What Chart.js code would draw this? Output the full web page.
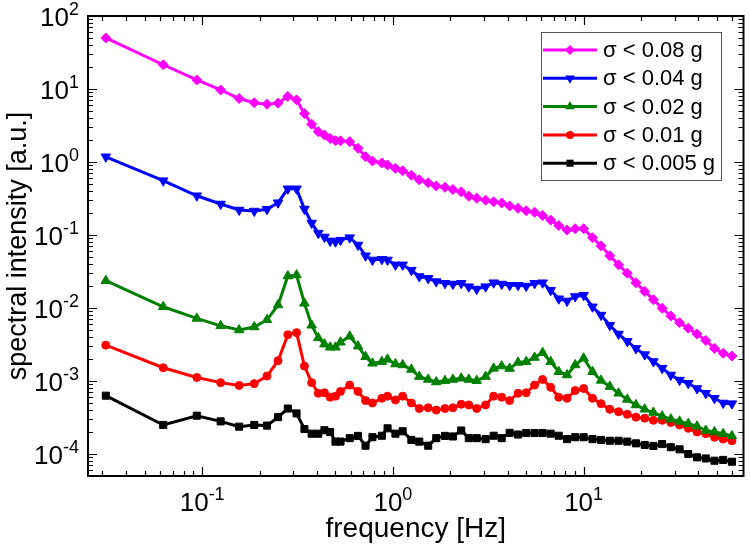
<!DOCTYPE html>
<html>
<head>
<meta charset="utf-8">
<script src="https://cdn.jsdelivr.net/npm/chart.js@4.4.0/dist/chart.umd.min.js"></script>
<style>
html, body { margin: 0; padding: 0; background: #fff; }
#wrap { width: 750px; height: 544px; }
</style>
</head>
<body>
<div id="wrap"><canvas id="c" width="750" height="544"></canvas></div>
<script>
// frequency bins [Hz]
const freq = [0.03125, 0.0625, 0.09375, 0.125, 0.15625, 0.1875, 0.21875, 0.25, 0.28125, 0.3125, 0.34375, 0.375, 0.40625, 0.4375, 0.46875, 0.5,
    0.53125, 0.59375, 0.65625, 0.71875, 0.78125, 0.875, 0.9375,
    1.031, 1.125, 1.25, 1.375, 1.531, 1.688, 1.875, 2.063, 2.281, 2.5, 2.75, 3.063, 3.375, 3.719, 4.094, 4.531, 5.0, 5.531, 6.094, 6.719, 7.406, 8.188, 9.031,
    10.0, 11.13, 12.34, 13.72, 15.25, 16.94, 18.81, 20.91, 23.22, 25.81, 28.66, 31.84, 35.38, 39.31, 43.69, 48.53, 53.91, 59.91];

const sig008 = [50, 21.5, 13.3, 9.7, 7.4, 6.5, 6.2, 6.4, 7.9, 7.1, 4.6, 3.3, 2.6, 2.35, 2.1, 1.96,
    1.95, 1.9, 1.54, 1.18, 1.03, 0.97, 0.91,
    0.82, 0.76, 0.66, 0.57, 0.52, 0.47, 0.45, 0.42, 0.39, 0.34, 0.32, 0.30, 0.285, 0.275, 0.25, 0.232, 0.215, 0.205, 0.185, 0.16, 0.135, 0.117, 0.122,
    0.122, 0.092, 0.071, 0.052, 0.039, 0.030, 0.0222, 0.0169, 0.0130, 0.0099, 0.0078, 0.0063, 0.0053, 0.0044, 0.0036, 0.0028, 0.0024, 0.0022];

const sig004 = [1.18, 0.555, 0.345, 0.266, 0.22, 0.213, 0.225, 0.277, 0.43, 0.43, 0.227, 0.146, 0.106, 0.094, 0.083, 0.081,
    0.085, 0.092, 0.073, 0.052, 0.0455, 0.0465, 0.0455,
    0.039, 0.039, 0.033, 0.027, 0.0255, 0.023, 0.0218, 0.0213, 0.0218, 0.0196, 0.0182, 0.0196, 0.0222, 0.0213, 0.0205, 0.0205, 0.02, 0.0218, 0.0222, 0.0175, 0.0134, 0.0125, 0.0144,
    0.015, 0.0104, 0.008, 0.0058, 0.0044, 0.0035, 0.0028, 0.0023, 0.00185, 0.0015, 0.00121, 0.00103, 0.00093, 0.00079, 0.00068, 0.00058, 0.0005, 0.00049];

const sig002 = [0.0237, 0.0104, 0.0072, 0.0057, 0.005, 0.0055, 0.0069, 0.011, 0.0274, 0.0283, 0.0116, 0.0058, 0.0039, 0.0032, 0.0029, 0.0029,
    0.0034, 0.0041, 0.003, 0.00215, 0.00175, 0.00184, 0.00198,
    0.00171, 0.00166, 0.00144, 0.00115, 0.00105, 0.00097, 0.00101, 0.00105, 0.00109, 0.00105, 0.00101, 0.00115, 0.00149, 0.0016, 0.00148, 0.0018, 0.00184, 0.0021, 0.00244, 0.00184, 0.00134, 0.00121, 0.00166,
    0.00205, 0.00134, 0.00102, 0.00084, 0.00068, 0.00056, 0.00047, 0.00041, 0.00037, 0.00033, 0.0003, 0.00028, 0.00026, 0.00024, 0.00021, 0.0002, 0.00019, 0.000177];

const sig001 = [0.0031, 0.00152, 0.00112, 0.00095, 0.00087, 0.00092, 0.00117, 0.0019, 0.0043, 0.0046, 0.0016, 0.00095, 0.00068, 0.00069, 0.0006, 0.00062,
    0.00072, 0.00088, 0.00072, 0.00054, 0.0005, 0.00058, 0.00062,
    0.00055, 0.00062, 0.0005, 0.00042, 0.00043, 0.0004, 0.00042, 0.00043, 0.00048, 0.00047, 0.00042, 0.00047, 0.00062, 0.0006, 0.00054, 0.00068, 0.00069, 0.00088, 0.00105, 0.00082, 0.0006, 0.00058, 0.00074,
    0.00079, 0.00058, 0.00049, 0.00041, 0.00038, 0.00035, 0.00032, 0.00031, 0.00029, 0.00029, 0.00027, 0.00025, 0.000225, 0.0002, 0.00019, 0.00017, 0.00016, 0.000152];

const sig0005 = [0.00063, 0.00025, 0.000335, 0.00028, 0.000237, 0.00025, 0.000245, 0.00032, 0.00042, 0.00036, 0.00022, 0.00019, 0.00019, 0.000212, 0.0002, 0.000148,
    0.000148, 0.000165, 0.000177, 0.00013, 0.00017, 0.000178, 0.000225,
    0.00019, 0.000205, 0.000156, 0.000148, 0.00013, 0.000165, 0.000177, 0.000174, 0.00021, 0.000165, 0.000165, 0.00016, 0.000178, 0.000165, 0.000195, 0.000185, 0.000194, 0.000194, 0.000194, 0.00019, 0.000178, 0.00016, 0.00017,
    0.00017, 0.00016, 0.000156, 0.000152, 0.000152, 0.000148, 0.00014, 0.000133, 0.000129, 0.000137, 0.000124, 0.000116, 0.0001, 0.00009, 0.000087, 0.000081, 0.000083, 0.0000785];

const seriesLabels = ['σ < 0.08 g', 'σ < 0.04 g', 'σ < 0.02 g', 'σ < 0.01 g', 'σ < 0.005 g'];
const xMajor = [0.1, 1, 10];
const yMajor = [1e-4, 1e-3, 1e-2, 1e-1, 1, 10, 100];

const FONT = '"Liberation Sans", Arial, sans-serif';

const styles = [
    {color: '#ff00ff', point: 'rectRot', radius: 5, rot: 0},
    {color: '#0000ff', point: 'triangle', radius: 5.5, rot: 180},
    {color: '#008000', point: 'triangle', radius: 5.5, rot: 0},
    {color: '#ff0000', point: 'circle', radius: 4, rot: 0},
    {color: '#000000', point: 'rect', radius: 5, rot: 0}
];

function toPoints(values) {
    return freq.map(function (f, i) { return {x: f, y: values[i]}; });
}

const allSeries = [sig008, sig004, sig002, sig001, sig0005];
const datasets = allSeries.map(function (vals, i) {
    const st = styles[i];
    return {
        label: seriesLabels[i],
        data: toPoints(vals),
        borderColor: st.color,
        backgroundColor: st.color,
        borderWidth: 3,
        pointStyle: st.point,
        pointRadius: st.radius,
        pointRotation: st.rot,
        pointBorderWidth: 1,
        pointBackgroundColor: st.color,
        pointBorderColor: st.color,
        tension: 0
    };
});

// power-of-ten label: "10" with raised exponent
function powLabel(ctx, exp, x, y, align) {
    const base = '10', sup = String(exp);
    ctx.font = '26px ' + FONT;
    const wb = ctx.measureText(base).width;
    ctx.font = '18px ' + FONT;
    const ws = ctx.measureText(sup).width;
    let x0;
    if (align === 'right') x0 = x - wb - ws;
    else x0 = x - (wb + ws) / 2;
    ctx.textAlign = 'left';
    ctx.textBaseline = 'alphabetic';
    ctx.font = '26px ' + FONT;
    ctx.fillText(base, x0, y);
    ctx.font = '18px ' + FONT;
    ctx.fillText(sup, x0 + wb, y - 11);
}

function marker(ctx, st, x, y) {
    const r = st.radius;
    ctx.fillStyle = st.color;
    ctx.beginPath();
    if (st.point === 'rectRot') {
        ctx.moveTo(x, y - r); ctx.lineTo(x + r, y); ctx.lineTo(x, y + r); ctx.lineTo(x - r, y);
    } else if (st.point === 'triangle') {
        const s = st.rot ? -1 : 1;
        ctx.moveTo(x, y - s * r);
        ctx.lineTo(x + r * 0.866, y + s * r * 0.5);
        ctx.lineTo(x - r * 0.866, y + s * r * 0.5);
    } else if (st.point === 'circle') {
        ctx.arc(x, y, r, 0, Math.PI * 2);
    } else {
        const h = r * 0.707;
        ctx.rect(x - h, y - h, 2 * h, 2 * h);
    }
    ctx.closePath();
    ctx.fill();
}

const framePlugin = {
    id: 'frame',
    afterDraw(chart) {
        const ctx = chart.ctx;
        const a = chart.chartArea;
        const xs = chart.scales.x, ys = chart.scales.y;
        ctx.save();
        ctx.strokeStyle = '#000';
        ctx.fillStyle = '#000';

        // ticks, inward on all four sides
        ctx.lineWidth = 1.2;
        ctx.beginPath();
        for (let d = -2; d <= 1; d++) {
            for (let m = 1; m <= 9; m++) {
                const v = m * Math.pow(10, d);
                if (v < xs.min || v > xs.max) continue;
                const px = Math.round(xs.getPixelForValue(v)) + 0.5;
                const len = m === 1 ? 9 : 5;
                ctx.moveTo(px, a.bottom); ctx.lineTo(px, a.bottom - len);
                ctx.moveTo(px, a.top); ctx.lineTo(px, a.top + len);
            }
        }
        for (let d = -5; d <= 2; d++) {
            for (let m = 1; m <= 9; m++) {
                const v = m * Math.pow(10, d);
                if (v < ys.min || v > ys.max) continue;
                const py = Math.round(ys.getPixelForValue(v)) + 0.5;
                const len = m === 1 ? 9 : 5;
                ctx.moveTo(a.left, py); ctx.lineTo(a.left + len, py);
                ctx.moveTo(a.right, py); ctx.lineTo(a.right - len, py);
            }
        }
        ctx.stroke();

        ctx.lineWidth = 2;
        ctx.strokeRect(a.left, a.top, a.right - a.left, a.bottom - a.top);

        // tick labels
        xMajor.forEach(function (v) {
            powLabel(ctx, Math.round(Math.log10(v)), xs.getPixelForValue(v), a.bottom + 35, 'center');
        });
        yMajor.forEach(function (v) {
            powLabel(ctx, Math.round(Math.log10(v)), a.left - 9, ys.getPixelForValue(v) + 10, 'right');
        });

        // axis titles
        ctx.font = '28px ' + FONT;
        ctx.textAlign = 'center';
        ctx.textBaseline = 'alphabetic';
        ctx.fillText('frequency [Hz]', (a.left + a.right) / 2, a.bottom + 61);
        ctx.save();
        ctx.translate(26, (a.top + a.bottom) / 2);
        ctx.rotate(-Math.PI / 2);
        ctx.font = '27px ' + FONT;
        ctx.fillText('spectral intensity [a.u.]', 0, 0);
        ctx.restore();

        // legend
        const lx = 541, ly = 32, lw = 180, lh = 148;
        ctx.fillStyle = '#fff';
        ctx.fillRect(lx, ly, lw, lh);
        ctx.strokeStyle = '#555';
        ctx.lineWidth = 1;
        ctx.strokeRect(lx + 0.5, ly + 0.5, lw, lh);
        ctx.font = '22px ' + FONT;
        ctx.textAlign = 'left';
        ctx.textBaseline = 'middle';
        chart.data.datasets.forEach(function (ds, i) {
            const yy = 50 + i * 28.3;
            const st = styles[i];
            ctx.strokeStyle = st.color;
            ctx.lineWidth = 3;
            ctx.beginPath();
            ctx.moveTo(543, yy); ctx.lineTo(597, yy);
            ctx.stroke();
            marker(ctx, st, 570, yy);
            ctx.fillStyle = '#000';
            ctx.fillText(ds.label, 603, yy + 1);
        });
        ctx.restore();
    }
};

new Chart(document.getElementById('c'), {
    type: 'line',
    data: {datasets: datasets},
    options: {
        responsive: false,
        animation: false,
        devicePixelRatio: 1,
        layout: {padding: {left: 88, right: 4, top: 16, bottom: 68}},
        plugins: {legend: {display: false}, tooltip: {enabled: false}},
        scales: {
            x: {type: 'logarithmic', min: 0.0252, max: 68.9, display: false},
            y: {type: 'logarithmic', min: 5e-5, max: 100, display: false}
        }
    },
    plugins: [framePlugin]
});
</script>
</body>
</html>
